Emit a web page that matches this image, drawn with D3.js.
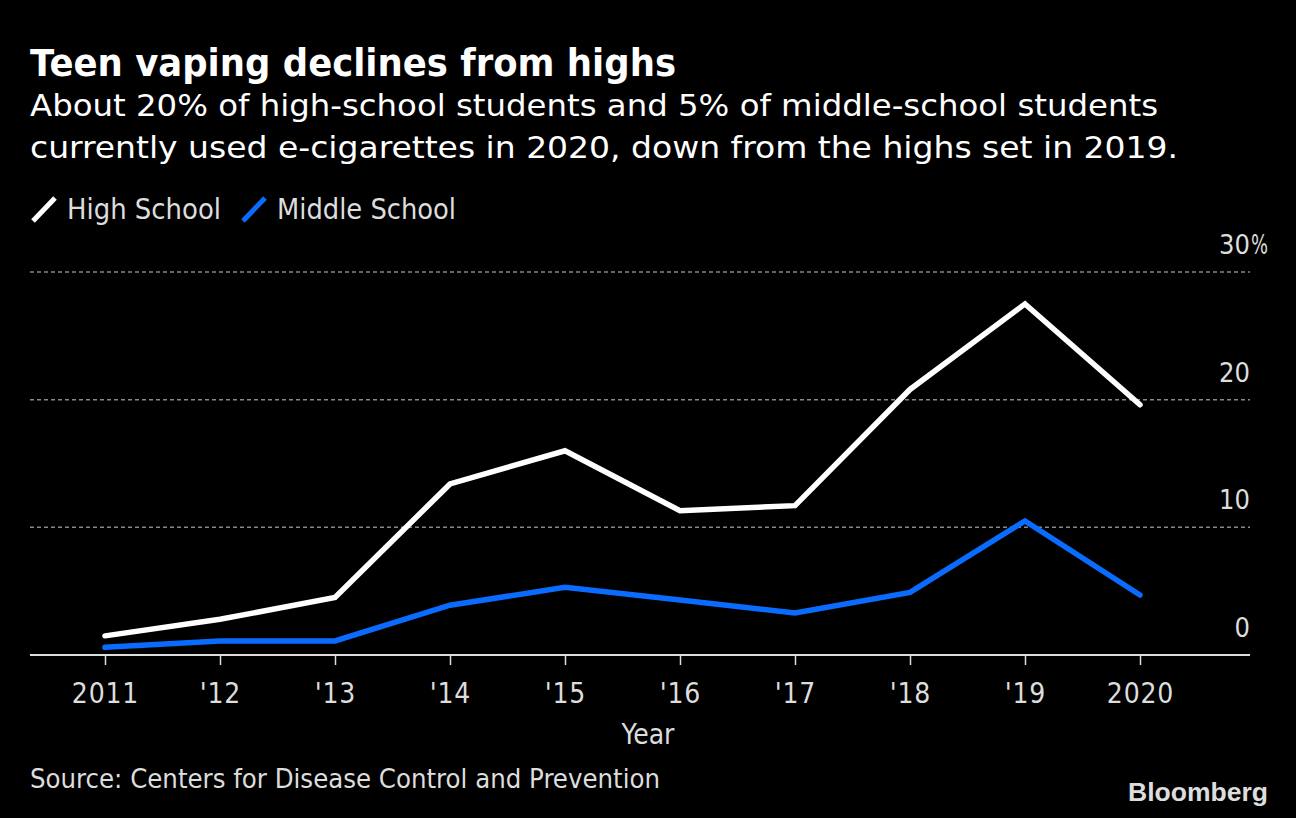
<!DOCTYPE html>
<html><head><meta charset="utf-8">
<script src="https://cdn.jsdelivr.net/npm/d3@7"></script>
<style>
html,body{margin:0;padding:0;background:#000;}
svg{display:block;}
text{font-family:"Liberation Sans Narrow","DejaVu Sans Condensed","Open Sans",sans-serif;}
</style></head>
<body>
<svg id="chart" width="1296" height="818"></svg>
<script>
const years = [2011,2012,2013,2014,2015,2016,2017,2018,2019,2020];
const yearLabels = ["2011","'12","'13","'14","'15","'16","'17","'18","'19","2020"];
const highSchool = [1.5,2.8,4.5,13.4,16.0,11.3,11.7,20.8,27.5,19.6];
const middleSchool = [0.6,1.1,1.1,3.9,5.3,4.3,3.3,4.9,10.5,4.7];
const yTicks = [0,10,20,30];
const yTickLabels = ["0","10","20","30"];
const seriesNames = ["High School","Middle School"];
const seriesColors = ["#ffffff","#0a6cff"];

(function(){
const svg = d3.select("#chart");
svg.append("rect").attr("width",1296).attr("height",818).attr("fill","#000");

const left=30, right=1250, plotTop=272, bottom=655;
const x = d3.scalePoint().domain(years).range([105,1140]);
const y = d3.scaleLinear().domain([0,30]).range([bottom,plotTop]);

function fitText(sel, w){ sel.attr("textLength",w).attr("lengthAdjust","spacingAndGlyphs"); return sel; }

fitText(svg.append("text").attr("x",30).attr("y",76).attr("fill","#fff")
  .attr("font-size",37).attr("font-weight","bold")
  .style("font-family","'DejaVu Sans','Liberation Sans',sans-serif")
  .text("Teen vaping declines from highs"), 646);
const sub = ["About 20% of high-school students and 5% of middle-school students",
             "currently used e-cigarettes in 2020, down from the highs set in 2019."];
const subW = [1128, 1148];
sub.forEach((s,i)=>fitText(svg.append("text").attr("x",30).attr("y",116+i*42).attr("fill","#fff")
  .attr("font-size",31).text(s), subW[i]));

const leg = svg.append("g");
const legX = [33, 243];
const legW = [154, 179];
seriesNames.forEach((n,i)=>{
  const lx = legX[i];
  leg.append("line").attr("x1",lx).attr("y1",221).attr("x2",lx+22).attr("y2",198)
    .attr("stroke",seriesColors[i]).attr("stroke-width",5).attr("stroke-linecap","butt");
  fitText(leg.append("text").attr("x",lx+34).attr("y",219).attr("fill","#ddd")
    .attr("font-size",28).text(n), legW[i]);
});

const grid = svg.append("g");
yTicks.filter(d=>d>0).forEach(d=>{
  grid.append("line").attr("x1",left).attr("x2",right).attr("y1",y(d)).attr("y2",y(d))
    .attr("stroke","#888").attr("stroke-width",1.5).attr("stroke-dasharray","4,3");
});
yTicks.forEach((d,i)=>{
  svg.append("text").attr("x",right).attr("y",y(d)-18).attr("text-anchor","end")
    .attr("fill","#ddd").attr("font-size",27).text(yTickLabels[i]);
  if (i === yTicks.length-1) {
    fitText(svg.append("text").attr("x",right+1).attr("y",y(d)-18).attr("text-anchor","start")
      .attr("fill","#ddd").attr("font-size",27).text("%"), 17);
  }
});

const xAxis = d3.axisBottom(x).tickSize(10).tickFormat((d,i)=>yearLabels[i]).tickPadding(18);
const gx = svg.append("g").attr("transform",`translate(0,${bottom})`).call(xAxis);
gx.select(".domain").remove();
gx.selectAll(".tick line").attr("stroke","#ddd").attr("stroke-width",1.5);
gx.selectAll(".tick text").attr("fill","#ddd").attr("font-size",28)
  .style("font-family","'Liberation Sans Narrow','DejaVu Sans Condensed',sans-serif")
  .style("letter-spacing","0.8px");
svg.append("line").attr("x1",left).attr("x2",right).attr("y1",bottom).attr("y2",bottom)
  .attr("stroke","#ddd").attr("stroke-width",2);

svg.append("text").attr("x",648).attr("y",744).attr("text-anchor","middle")
  .attr("fill","#ddd").attr("font-size",28).text("Year");

const line = d3.line().x((d,i)=>x(years[i])).y(d=>y(d));
[highSchool,middleSchool].forEach((s,i)=>{
  svg.append("path").datum(s).attr("d",line).attr("fill","none")
    .attr("stroke",seriesColors[i]).attr("stroke-width",5.5)
    .attr("stroke-linejoin","miter").attr("stroke-linecap","round");
});

fitText(svg.append("text").attr("x",30).attr("y",788).attr("fill","#ddd").attr("font-size",26)
  .text("Source: Centers for Disease Control and Prevention"), 630);
fitText(svg.append("text").attr("x",1128).attr("y",801)
  .attr("fill","#ddd").attr("font-size",26).attr("font-weight","bold")
  .style("font-family","'Liberation Sans','Arial',sans-serif")
  .text("Bloomberg"), 140);
})();
</script>
</body></html>
